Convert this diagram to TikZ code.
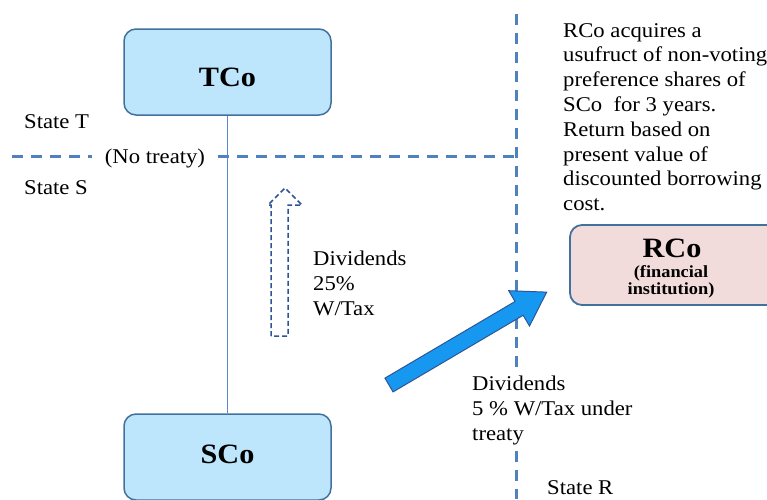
\documentclass[tikz,border=0pt]{standalone}
\usepackage{fontspec}
\setmainfont[FakeStretch=1.08]{Liberation Serif}
\definecolor{boxblue}{RGB}{189,230,252}
\definecolor{boxline}{RGB}{65,113,156}
\definecolor{dashblue}{RGB}{79,129,189}
\definecolor{linkblue}{RGB}{90,135,205}
\definecolor{arrowblue}{RGB}{22,152,240}
\definecolor{arrowline}{RGB}{47,85,151}
\definecolor{rcopink}{RGB}{242,220,219}
\begin{document}
\begin{tikzpicture}[x=1pt,y=-1pt,
  company/.style={draw=boxline, line width=1.5pt, rounded corners=12pt, fill=boxblue,
    minimum width=207pt, minimum height=86pt, font=\bfseries\fontsize{28}{30}\selectfont},
  border/.style={draw=dashblue, line width=3pt, dash pattern=on 11pt off 8pt},
  label/.style={font=\fontsize{21}{24.8}\selectfont, align=left, inner sep=0pt},
  link/.style={draw=linkblue, line width=1.3pt}
]
\useasboundingbox (0,0) rectangle (767,499);

% state borders
\draw[border] (12,156) -- (92,156);
\draw[border] (218,156) -- (515,156);
\draw[border] (516,14) -- (516,499);

% companies
\node[company, text height=29pt] (tco) at (227.5,72) {TCo};
\node[company, text depth=6pt] (sco) at (227.5,457) {SCo};
\draw[link] (tco.south) -- (sco.north);

% financial institution
\draw[boxline, line width=1.8pt, fill=rcopink, rounded corners=12pt] (570,225) rectangle (800,305);
\node[font=\bfseries\fontsize{28}{28}\selectfont, inner sep=0pt] (rco) at (672,248) {RCo};
\node[font=\bfseries\fontsize{17}{17.5}\selectfont, align=center, inner sep=0pt] (rcosub) at (671,282) {(financial\\institution)};

% state labels
\node[label, anchor=west] (statet) at (24,122) {State T};
\node[label, anchor=west] (states) at (24,188) {State S};
\node[label, anchor=west] (stater) at (547,488) {State R};
\node[label, anchor=center] (notreaty) at (155,158) {(No treaty)};

% dividends to TCo (no treaty) - hollow dashed arrow
\draw[arrowline, line width=1.5pt, dash pattern=on 5pt off 3pt, line join=miter]
  (271,336) -- (271,205) -- (268,205) -- (285,188) -- (302,205) -- (288,205) -- (288,336) -- cycle;
\node[label, anchor=north west] (divt) at (313,251) {Dividends\\25\%\\W/Tax};

% dividends to RCo under treaty - solid block arrow
\coordinate (tail) at (389,385);
\begin{scope}[shift={(tail)}, rotate=30.5]
  \draw[arrowline, line width=1pt, fill=arrowblue, line join=miter]
    (0,8) -- (151,8) -- (151,20.5) -- (183,0) -- (151,-20.5) -- (151,-8) -- (0,-8) -- cycle;
\end{scope}
\node[label, anchor=north west, fill=white, inner sep=2pt] (divr) at (470,374) {Dividends\\5 \% W/Tax under\\treaty};

% description of the arrangement
\node[label, anchor=north west] (desc) at (563,23) {RCo acquires a\\usufruct of non-voting\\preference shares of\\SCo\ \ for 3 years.\\Return based on\\present value of\\discounted borrowing\\cost.};
\end{tikzpicture}
\end{document}
